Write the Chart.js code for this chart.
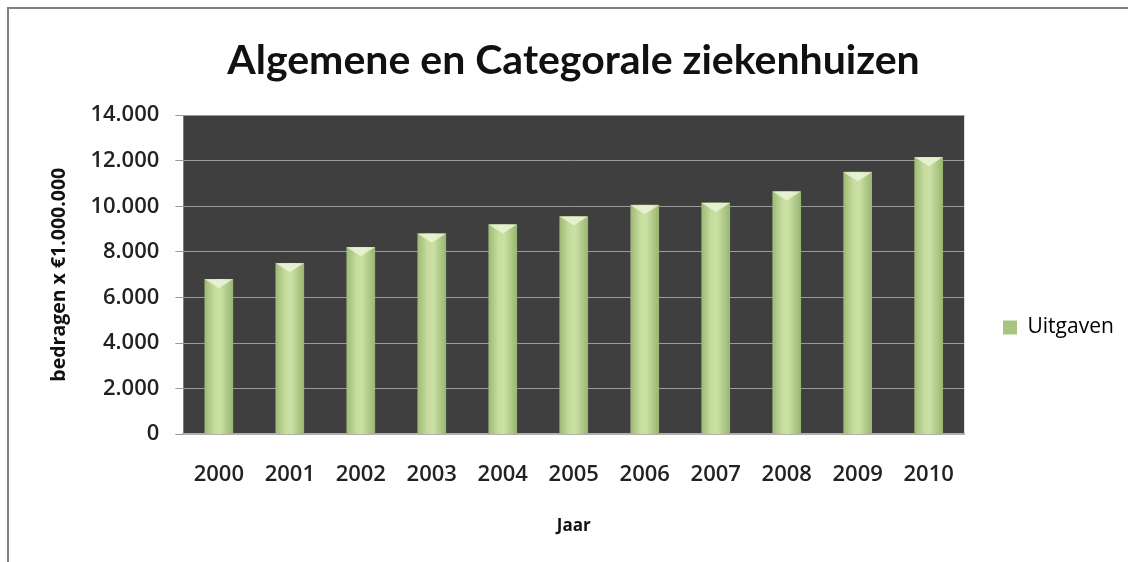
<!DOCTYPE html>
<html>
<head>
<meta charset="utf-8">
<script src="https://cdn.jsdelivr.net/npm/chart.js@4"></script>
<style>
  html, body { margin: 0; padding: 0; background: #fff; }
  #wrap { width: 1128px; height: 562px; position: relative; }
</style>
</head>
<body>
<div id="wrap"><canvas id="chart" width="1128" height="562"></canvas></div>
<script>
const years = ["2000", "2001", "2002", "2003", "2004", "2005", "2006", "2007", "2008", "2009", "2010"];
const uitgaven = [6800, 7500, 8200, 8800, 9200, 9550, 10050, 10150, 10650, 11500, 12150];
const seriesName = "Uitgaven";
const titleText = "Algemene en Categorale ziekenhuizen";
const yTitle = "bedragen x €1.000.000";
const xTitle = "Jaar";

const BAR_W = 28;

function barGradient(ctx) {
  const chart = ctx.chart;
  if (!chart.chartArea || ctx.type !== "data") return "#b5d08a";
  const cx = chart.scales.x.getPixelForValue(ctx.dataIndex);
  const g = chart.ctx.createLinearGradient(cx - BAR_W / 2, 0, cx + BAR_W / 2, 0);
  g.addColorStop(0, "#9fba76");
  g.addColorStop(0.35, "#c6dd9e");
  g.addColorStop(0.55, "#cae1a4");
  g.addColorStop(1, "#9bb671");
  return g;
}

// dark plot background + outer frame
const plotBg = {
  id: "plotBg",
  beforeDraw(chart) {
    const { ctx, chartArea: a } = chart;
    ctx.save();
    ctx.fillStyle = "#3f3f3f";
    ctx.fillRect(a.left, a.top, a.right - a.left, a.bottom - a.top);
    ctx.strokeStyle = "#808080";
    ctx.lineWidth = 2;
    ctx.beginPath();
    ctx.moveTo(8, chart.height);
    ctx.lineTo(8, 8);
    ctx.lineTo(chart.width, 8);
    ctx.stroke();
    ctx.restore();
    // legend placement like the original
    const lg = chart.legend;
    const h = lg.bottom - lg.top;
    lg.left = 989;
    lg.right = 1128;
    lg.top = 303;
    lg.bottom = 303 + h;
  },
  afterDatasetsDraw(chart) {
    // light bevel on the bar tops
    const { ctx } = chart;
    const meta = chart.getDatasetMeta(0);
    ctx.save();
    meta.data.forEach(bar => {
      const l = bar.x - bar.width / 2, r = bar.x + bar.width / 2;
      ctx.fillStyle = "rgba(235,244,215,0.85)";
      ctx.beginPath();
      ctx.moveTo(l, bar.y);
      ctx.lineTo(r, bar.y);
      ctx.lineTo(bar.x, bar.y + 9);
      ctx.closePath();
      ctx.fill();
    });
    ctx.restore();
  }
};

new Chart(document.getElementById("chart"), {
  type: "bar",
  data: {
    labels: years,
    datasets: [{
      label: seriesName,
      data: uitgaven,
      backgroundColor: barGradient,
      borderWidth: 0,
      barThickness: BAR_W
    }]
  },
  options: {
    responsive: false,
    animation: false,
    layout: { padding: { left: 48, right: 29, top: 10, bottom: 26 } },
    plugins: {
      title: {
        display: true,
        text: titleText,
        color: "#111",
        font: { family: "Lato", size: 41, weight: "bold" },
        padding: { top: 26, bottom: 30 }
      },
      legend: {
        position: "right",
        align: "start",
        labels: {
          color: "#222",
          font: { family: "Open Sans", size: 21 },
          boxWidth: 14,
          boxHeight: 14,
          padding: 14,
          generateLabels(chart) {
            return [{
              text: seriesName,
              fillStyle: "#a9c47f",
              strokeStyle: "#a9c47f",
              lineWidth: 0,
              datasetIndex: 0
            }];
          }
        }
      },
      tooltip: { enabled: false }
    },
    scales: {
      x: {
        grid: { display: false },
        border: { display: true, color: "#b0b0b0", width: 2 },
        ticks: {
          color: "#222",
          font: { family: "Open Sans", size: 22, weight: "600" },
          padding: 19
        },
        title: {
          display: true,
          text: xTitle,
          color: "#111",
          font: { family: "Open Sans", size: 17, weight: "bold" },
          padding: { top: 9, bottom: 0 }
        }
      },
      y: {
        min: 0,
        max: 14000,
        grid: { color: "#9a9a9a", lineWidth: 1, tickLength: 8, tickColor: "#9a9a9a" },
        border: { display: false },
        ticks: {
          stepSize: 2000,
          color: "#222",
          font: { family: "Open Sans", size: 22, weight: "600" },
          padding: 16,
          callback: v => v.toLocaleString("nl-NL")
        },
        title: {
          display: true,
          text: yTitle,
          color: "#111",
          font: { family: "Open Sans", size: 19.5, weight: "bold" },
          padding: { top: 0, bottom: 3 }
        }
      }
    }
  },
  plugins: [plotBg]
});
</script>
</body>
</html>
